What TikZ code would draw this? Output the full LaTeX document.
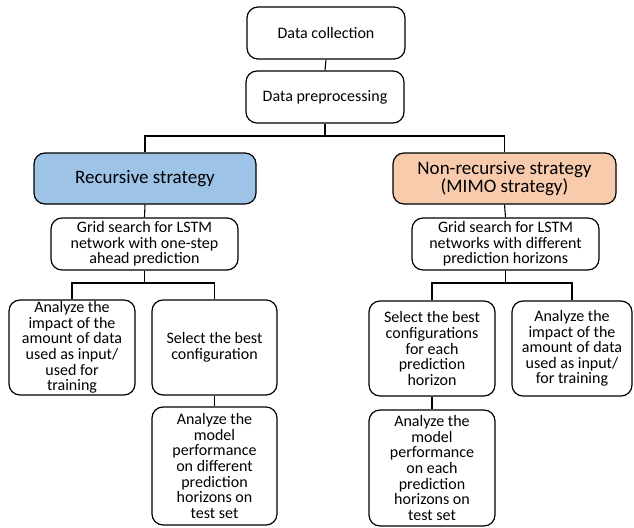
\documentclass[tikz,border=0pt]{standalone}
\usepackage{fontspec}
\setmainfont{Carlito}
\begin{document}
\begin{tikzpicture}[x=1pt,y=-1pt,
  box/.style={draw=black, line width=1.2pt, rounded corners=11pt, fill=white,
    inner sep=0pt, align=center, font=\fontsize{16}{15.6}\selectfont},
  headbox/.style={box, font=\fontsize{19}{16.5}\selectfont},
  link/.style={draw=black, line width=1.1pt}]
\useasboundingbox (0,0) rectangle (634,527);

% top of the flow
\node[box, minimum width=158pt, minimum height=52pt] (dc) at (326,33) {Data collection};
\node[box, minimum width=158pt, minimum height=52pt] (dp) at (325,97) {Data preprocessing};

% the two strategies
\node[headbox, fill={rgb,255:red,157;green,195;blue,230}, minimum width=222pt, minimum height=51pt] (rec) at (145,178.5) {Recursive strategy};
\node[headbox, fill={rgb,255:red,248;green,203;blue,173}, minimum width=223pt, minimum height=51pt] (mimo) at (504.5,178.5) {Non-recursive strategy\\(MIMO strategy)};

% grid searches
\node[box, minimum width=187pt, minimum height=52pt] (gl) at (144.5,244) {Grid search for LSTM\\network with one-step\\ahead prediction};
\node[box, minimum width=187pt, minimum height=52pt] (gr) at (505.5,244) {Grid search for LSTM\\networks with different\\prediction horizons};

% recursive branch
\node[box, minimum width=126pt, minimum height=95pt] (la) at (72,347.5) {Analyze the\\impact of the\\amount of data\\used as input/\\used for\\training};
\node[box, minimum width=125pt, minimum height=95pt] (ls) at (214.5,347.5) {Select the best\\configuration};
\node[box, minimum width=125pt, minimum height=118pt] (lb) at (214.5,466) {Analyze the\\model\\performance\\on different\\prediction\\horizons on\\test set};

% MIMO branch
\node[box, minimum width=126pt, minimum height=95pt] (rs) at (432,348.5) {Select the best\\configurations\\for each\\prediction\\horizon};
\node[box, minimum width=120pt, minimum height=95pt] (ra) at (572,348.5) {Analyze the\\impact of the\\amount of data\\used as input/\\for training};
\node[box, minimum width=126pt, minimum height=116pt] (rb) at (432,468) {Analyze the\\model\\performance\\on each\\prediction\\horizons on\\test set};

% junction points of the tree
\coordinate (split) at (325,136);
\coordinate (lfork) at (144.5,283);
\coordinate (rfork) at (505.5,283);

% connectors
\draw[link] (dc.south) -- (dp.north);
\draw[link] (dp.south) -- (split);
\draw[link] (rec.north) |- (split) -| (mimo.north);
\draw[link] (rec.south) -- (gl.north);
\draw[link] (mimo.south) -- (gr.north);
\draw[link] (gl.south) -- (lfork);
\draw[link] (la.north) |- (lfork) -| (ls.north);
\draw[link] (gr.south) -- (rfork);
\draw[link] (rs.north) |- (rfork) -| (ra.north);
\draw[link] (ls.south) -- (lb.north);
\draw[link] (rs.south) -- (rb.north);
\end{tikzpicture}
\end{document}
